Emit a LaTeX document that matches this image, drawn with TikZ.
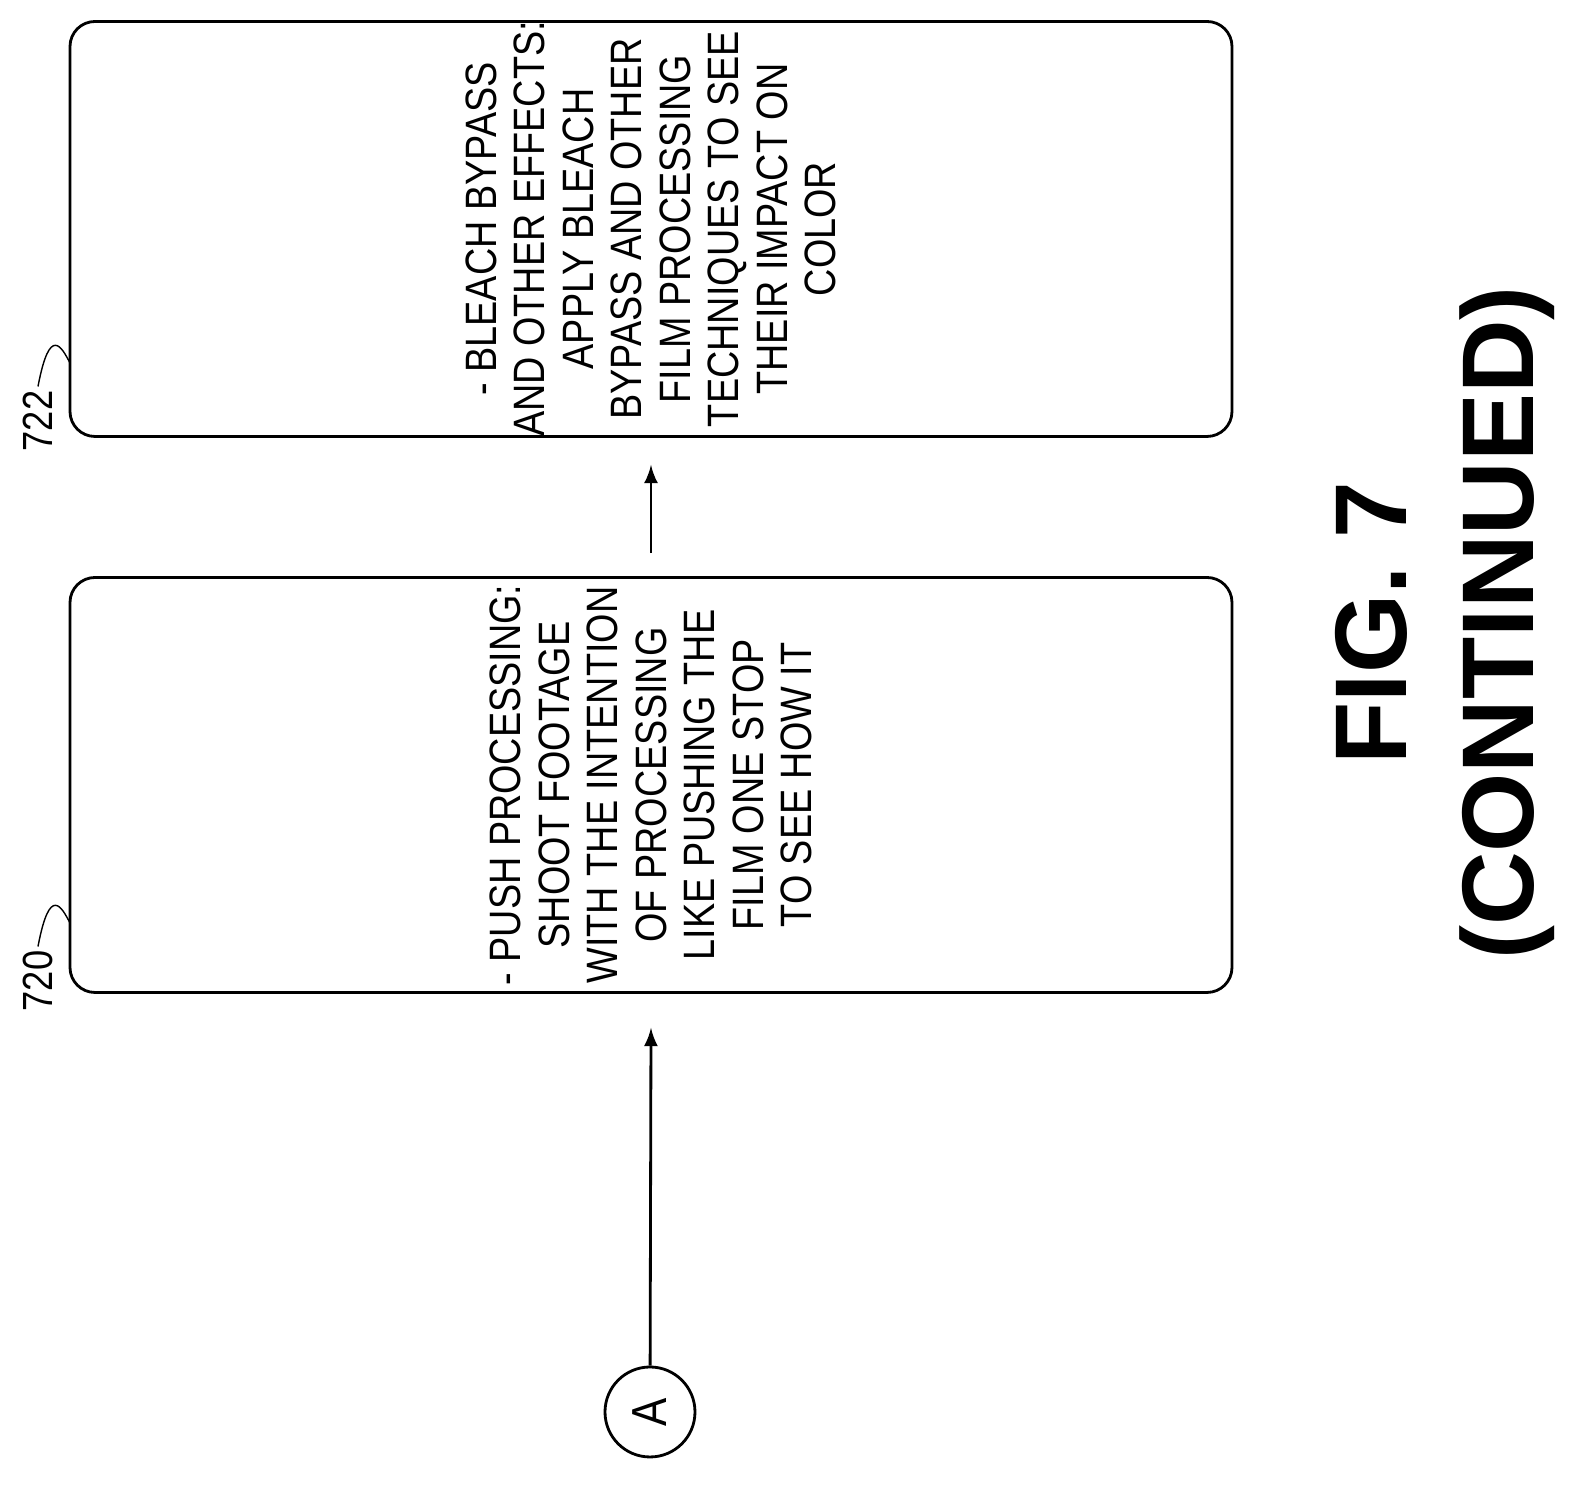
\documentclass[tikz,border=0pt]{standalone}
\usepackage{fontspec}
\setmainfont[FakeStretch=0.86]{Liberation Sans}
\newfontfamily\figfont{Liberation Sans}
\usetikzlibrary{positioning}
\tikzset{
  stepbox/.style={draw,thick,rounded corners=0.25cm,minimum width=11.62cm,minimum height=4.15cm},
  steptext/.style={rotate=90,align=center,font=\fontsize{12.5}{13.8}\selectfont},
  reflabel/.style={rotate=90,font=\fontsize{12}{12}\selectfont,inner sep=1pt},
}
\begin{document}
\begin{tikzpicture}
\useasboundingbox (0,0) rectangle (15.81,14.93);
% boxes
\node[stepbox] (b722) at (6.51,12.64) {};
\node[stepbox] (b720) at (6.51,7.08) {};
\node[steptext] (t722) at (b722.center) {- BLEACH BYPASS\\AND OTHER EFFECTS:\\APPLY BLEACH\\BYPASS AND OTHER\\FILM PROCESSING\\TECHNIQUES TO SEE\\THEIR IMPACT ON\\COLOR};
\node[steptext] (t720) at (b720.center) {- PUSH PROCESSING:\\SHOOT FOOTAGE\\WITH THE INTENTION\\OF PROCESSING\\LIKE PUSHING THE\\FILM ONE STOP\\TO SEE HOW IT};
% connector A
\node[draw,thick,circle,minimum size=0.9cm,inner sep=0pt,rotate=90,font=\fontsize{14}{14}\selectfont] (a) at (6.5,0.81) {A};
\draw[thick,-latex] (a) -- ([yshift=-0.34cm]b720.south);
\draw[thick,-latex] ([yshift=0.23cm]b720.north) -- ([yshift=-0.27cm]b722.south);
% reference labels
\node[reflabel] (l720) at (0.38,5.12) {720};
\node[reflabel] (l722) at (0.38,10.72) {722};
\draw (l720.east) .. controls (0.5,6.1) and (0.62,5.85) .. (0.7,5.7);
\draw (l722.east) .. controls (0.5,11.7) and (0.62,11.45) .. (0.7,11.3);
% figure caption
\node[rotate=90,align=center,font=\figfont\bfseries\fontsize{29}{36}\selectfont] (fig) at (14.45,8.7) {FIG. 7\\(CONTINUED)};
\end{tikzpicture}
\end{document}
